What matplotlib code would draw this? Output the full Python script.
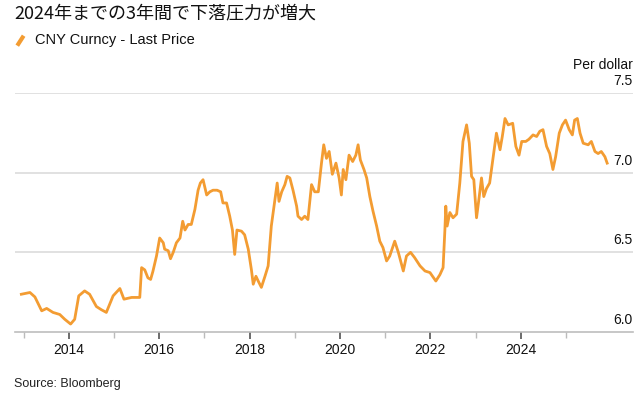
import matplotlib
matplotlib.use("Agg")
import matplotlib.pyplot as plt
from matplotlib.lines import Line2D

# CNY per USD (decimal year, value)
years = [
    2012.95, 2013.14, 2013.25, 2013.40, 2013.51, 2013.65, 2013.80, 2013.91,
    2014.04, 2014.13, 2014.22, 2014.35, 2014.46, 2014.61, 2014.72, 2014.83,
    2014.98, 2015.13, 2015.22, 2015.39, 2015.57, 2015.61, 2015.68, 2015.75,
    2015.81, 2015.86, 2015.94, 2016.01, 2016.09, 2016.12, 2016.20, 2016.25,
    2016.31, 2016.38, 2016.46, 2016.52, 2016.57, 2016.64, 2016.71, 2016.79,
    2016.86, 2016.91, 2016.97, 2017.05, 2017.12, 2017.19, 2017.28, 2017.36,
    2017.41, 2017.49, 2017.56, 2017.62, 2017.67, 2017.72, 2017.82, 2017.89,
    2017.97, 2018.04, 2018.08, 2018.14, 2018.19, 2018.26, 2018.34, 2018.41,
    2018.48, 2018.56, 2018.61, 2018.65, 2018.71, 2018.78, 2018.83, 2018.89,
    2018.96, 2019.04, 2019.07, 2019.15, 2019.22, 2019.29, 2019.37, 2019.44,
    2019.52, 2019.59, 2019.64, 2019.70, 2019.76, 2019.83, 2019.91, 2019.98,
    2020.03, 2020.07, 2020.13, 2020.20, 2020.28, 2020.35, 2020.40, 2020.45,
    2020.53, 2020.59, 2020.66, 2020.73, 2020.81, 2020.88, 2020.95, 2021.03,
    2021.10, 2021.21, 2021.29, 2021.40, 2021.47, 2021.56, 2021.65, 2021.77,
    2021.88, 2021.99, 2022.12, 2022.21, 2022.28, 2022.32, 2022.34, 2022.37,
    2022.43, 2022.50, 2022.58, 2022.65, 2022.72, 2022.80, 2022.86, 2022.91,
    2022.96, 2023.02, 2023.08, 2023.13, 2023.18, 2023.24, 2023.31, 2023.39,
    2023.46, 2023.54, 2023.59, 2023.65, 2023.72, 2023.82, 2023.89, 2023.96,
    2024.02, 2024.11, 2024.18, 2024.27, 2024.35, 2024.42, 2024.49, 2024.57,
    2024.64, 2024.71, 2024.77, 2024.85, 2024.92, 2024.99, 2025.07, 2025.14,
    2025.19, 2025.25, 2025.31, 2025.38, 2025.49, 2025.56, 2025.64, 2025.71,
    2025.78, 2025.86, 2025.91,
]
values = [
    6.237, 6.248, 6.220, 6.133, 6.148, 6.123, 6.110, 6.080,
    6.050, 6.080, 6.227, 6.258, 6.237, 6.160, 6.140, 6.123,
    6.227, 6.273, 6.206, 6.217, 6.217, 6.404, 6.390, 6.340,
    6.330, 6.380, 6.477, 6.590, 6.560, 6.520, 6.510, 6.460,
    6.500, 6.560, 6.590, 6.695, 6.640, 6.675, 6.675, 6.770,
    6.890, 6.935, 6.956, 6.860, 6.880, 6.890, 6.890, 6.880,
    6.810, 6.810, 6.727, 6.640, 6.487, 6.640, 6.633, 6.610,
    6.520, 6.390, 6.300, 6.350, 6.320, 6.280, 6.350, 6.415,
    6.665, 6.830, 6.935, 6.820, 6.880, 6.925, 6.977, 6.967,
    6.890, 6.790, 6.727, 6.706, 6.727, 6.706, 6.925, 6.880,
    6.880, 7.060, 7.175, 7.090, 7.133, 6.990, 7.060, 6.967,
    6.860, 7.020, 6.956, 7.110, 7.070, 7.110, 7.175, 7.080,
    7.020, 6.967, 6.850, 6.758, 6.665, 6.570, 6.530, 6.446,
    6.477, 6.570, 6.500, 6.383, 6.477, 6.500, 6.467, 6.415,
    6.383, 6.373, 6.320, 6.360, 6.404, 6.640, 6.790, 6.665,
    6.750, 6.717, 6.740, 6.935, 7.196, 7.300, 7.185, 6.977,
    6.956, 6.717, 6.850, 6.967, 6.850, 6.900, 6.935, 7.100,
    7.248, 7.144, 7.227, 7.340, 7.300, 7.310, 7.165, 7.110,
    7.196, 7.196, 7.210, 7.237, 7.227, 7.260, 7.270, 7.165,
    7.120, 7.020, 7.100, 7.248, 7.300, 7.330, 7.270, 7.237,
    7.330, 7.340, 7.248, 7.185, 7.175, 7.196, 7.133, 7.120,
    7.133, 7.100, 7.060,
]

major_years = [2014, 2016, 2018, 2020, 2022, 2024]
minor_years = [2013, 2015, 2017, 2019, 2021, 2023, 2025]
y_ticks = [6.0, 6.5, 7.0, 7.5]

orange = "#F39C32"
plt.rcParams["font.family"] = ["Liberation Sans", "Noto Sans CJK JP", "DejaVu Sans"]

fig = plt.figure(figsize=(6.39, 3.97), dpi=100)
ax = fig.add_axes([0.0235, 0.1637, 0.967, 0.602])

for v in y_ticks[1:]:
    ax.axhline(v, color="#dcdcdc", lw=1.2, zorder=1)

ax.plot(years, values, color=orange, lw=2.0, zorder=3, solid_joinstyle="round")

ax.set_xlim(2012.81, 2026.48)
ax.set_ylim(6.0, 7.5)

for s in ["top", "right", "left"]:
    ax.spines[s].set_visible(False)
ax.spines["bottom"].set_color("#bdbdbd")
ax.spines["bottom"].set_linewidth(1.2)

ax.set_xticks(major_years)
ax.set_xticklabels([str(y) for y in major_years], fontsize=10, color="#111111")
ax.set_xticks(minor_years, minor=True)
ax.tick_params(axis="x", which="major", length=5, width=1.1, color="#444444", pad=3)
ax.tick_params(axis="x", which="minor", length=4, width=1, color="#bbbbbb")
ax.set_yticks([])

# y labels sit above the grid lines at the right end
for v in y_ticks:
    ax.annotate(f"{v:.1f}", xy=(1.0, v), xycoords=ax.get_yaxis_transform(),
                xytext=(0, 3.5), textcoords="offset points",
                ha="right", va="bottom", fontsize=10, color="#111111")

ax.text(1.0, 1.09, "Per dollar", transform=ax.transAxes, ha="right", va="bottom",
        fontsize=10, color="#111111")

fig.text(0.022, 0.965, "2024年までの3年間で下落圧力が増大", ha="left", va="center",
         fontsize=13, color="#111111", family=["Noto Sans CJK JP", "DejaVu Sans"])

fig.lines.append(Line2D([0.027, 0.037], [0.885, 0.91], transform=fig.transFigure,
                        color=orange, lw=3, solid_capstyle="butt"))
fig.text(0.055, 0.898, "CNY Curncy - Last Price", ha="left", va="center",
         fontsize=10.5, color="#111111")

fig.text(0.022, 0.033, "Source: Bloomberg", ha="left", va="center",
         fontsize=9, color="#222222")

fig.savefig("out.png", dpi=100)
